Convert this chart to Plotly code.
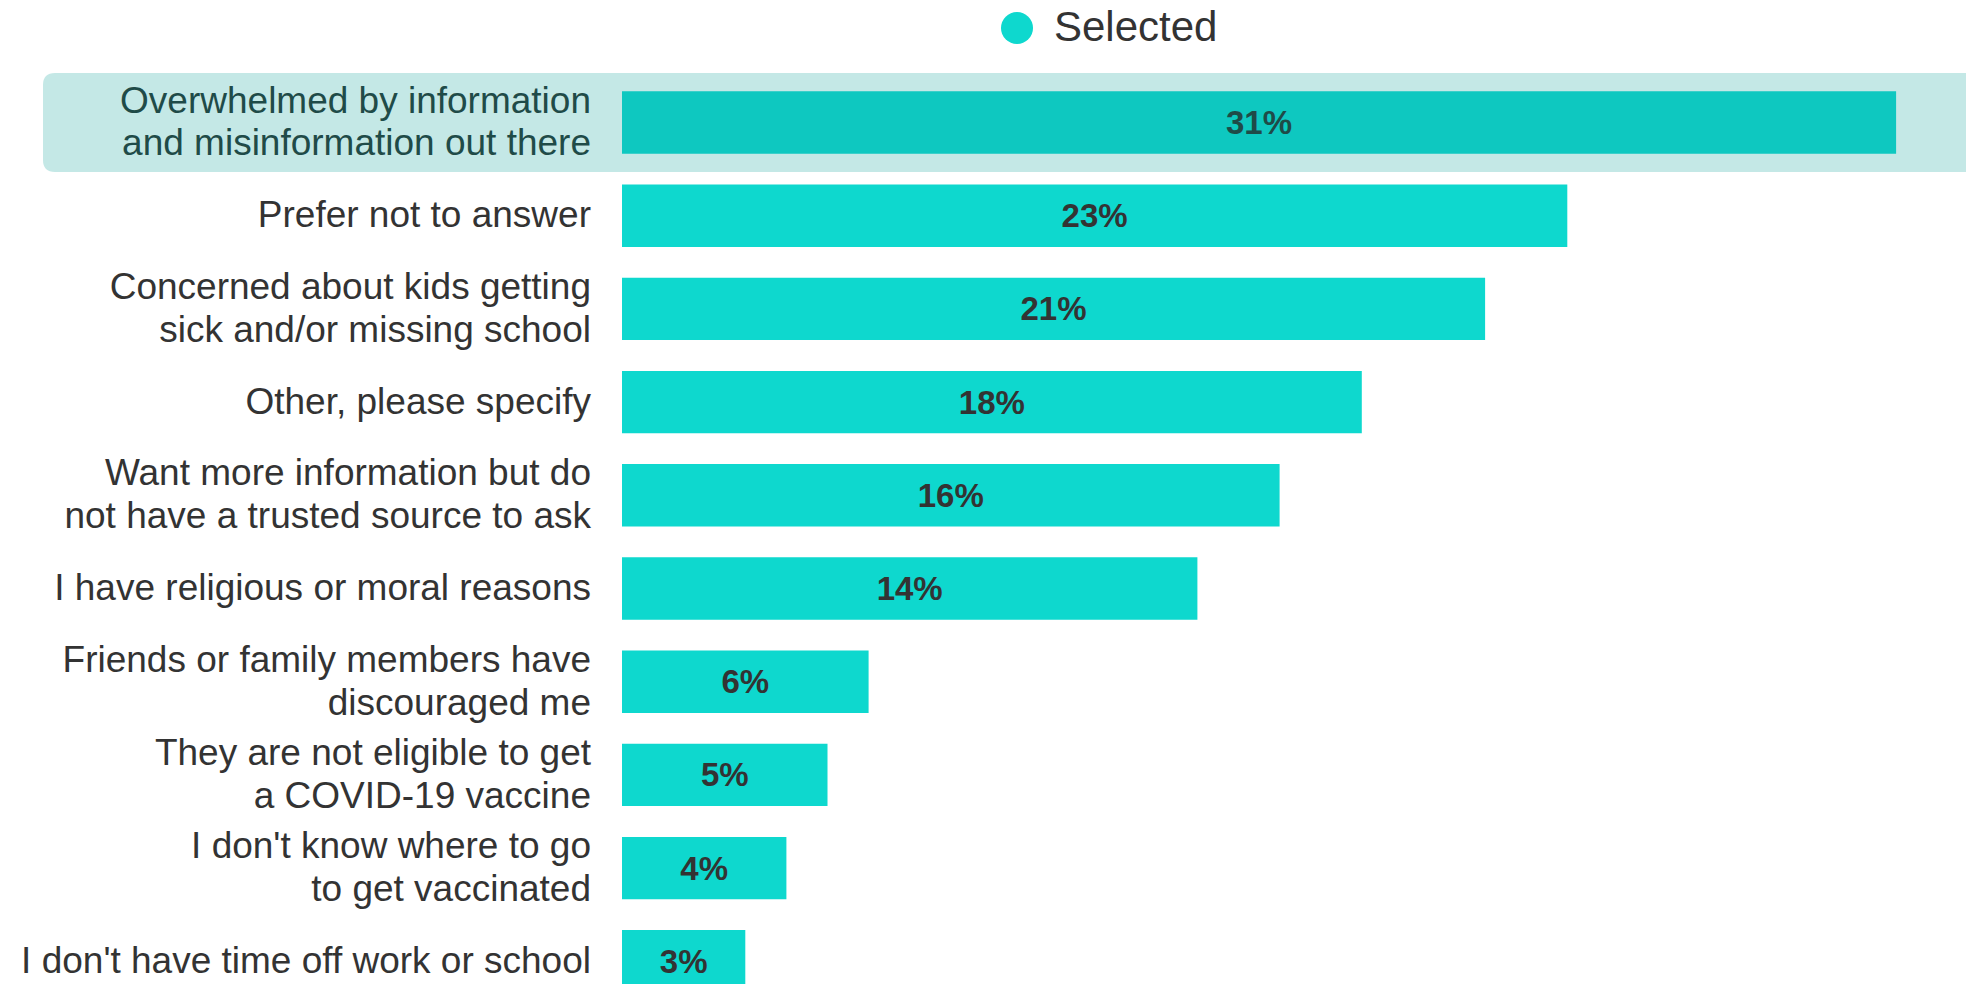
import plotly.graph_objects as go

categories = [
    "Overwhelmed by information<br>and misinformation out there",
    "Prefer not to answer",
    "Concerned about kids getting<br>sick and/or missing school",
    "Other, please specify",
    "Want more information but do<br>not have a trusted source to ask",
    "I have religious or moral reasons",
    "Friends or family members have<br>discouraged me",
    "They are not eligible to get<br>a COVID-19 vaccine",
    "I don't know where to go<br>to get vaccinated",
    "I don't have time off work or school",
]
values = [31, 23, 21, 18, 16, 14, 6, 5, 4, 3]
series_name = "Selected"
highlight_index = 0

BAR = "#0ED8CE"
BAR_HI = "#0EC8C0"
HI_BG = "#C4E8E6"
TXT = "#333333"
TXT_HI = "#1F4B48"
FONT = "Liberation Sans, Arial, sans-serif"
LABEL_PX = 37      # visible label glyph size
LINE_BASE = 33     # base size controlling line spacing

OFF = 8  # default page body margin
W, H = 1974 - OFF, 984 - OFF
PLOT_LEFT_PAGE, PLOT_TOP_PAGE = 622, 60
ML, MR, MT, MB = PLOT_LEFT_PAGE - OFF, 0, PLOT_TOP_PAGE - OFF, 0
plot_w = W - ML - MR
plot_h = H - MT - MB
px_per_unit_x = 41.1
px_per_row = 93.2
first_center_page = 122.5

ymin = -(first_center_page - PLOT_TOP_PAGE) / px_per_row
ymax = ymin + plot_h / px_per_row
xmax = plot_w / px_per_unit_x

idx = list(range(len(categories)))


def fmt_label(c, hi):
    style = f"font-size:{LABEL_PX}px" + (f";color:{TXT_HI}" if hi else "")
    return "<br>".join(f'<span style="{style}">{part}</span>' for part in c.split("<br>"))


ticktext = [fmt_label(c, i == highlight_index) for i, c in enumerate(categories)]
colors = [BAR_HI if i == highlight_index else BAR for i in idx]
tcolors = [TXT_HI if i == highlight_index else TXT for i in idx]

fig = go.Figure()
fig.add_trace(go.Bar(
    x=values, y=idx, orientation="h", name=series_name,
    marker=dict(color=colors, line=dict(width=0)),
    text=[f"{v}%" for v in values],
    texttemplate="<b>%{text}</b>",
    textposition="inside", insidetextanchor="middle",
    textfont=dict(size=33, color=tcolors, family=FONT),
    showlegend=False, hoverinfo="skip",
))

# highlight band with rounded left corners
r = 12
x0 = (43 - PLOT_LEFT_PAGE) / plot_w
x1 = 1.01
hy = 0.53
rx = r / plot_w
ry = r / px_per_row
y0 = highlight_index - hy
y1 = highlight_index + hy
path = (f"M {x1},{y0} L {x0+rx},{y0} Q {x0},{y0} {x0},{y0+ry} "
        f"L {x0},{y1-ry} Q {x0},{y1} {x0+rx},{y1} L {x1},{y1} Z")
fig.add_shape(type="path", path=path, xref="paper", yref="y",
              fillcolor=HI_BG, line=dict(width=0), layer="below")


# legend (circle marker + label), page pixel coordinates
def px2paperx(p):
    return (p - PLOT_LEFT_PAGE) / plot_w


def px2papery(p):
    return 1 - (p - PLOT_TOP_PAGE) / plot_h


cx, cy, cr = 1017, 28, 16
fig.add_shape(type="circle", xref="paper", yref="paper",
              x0=px2paperx(cx - cr), x1=px2paperx(cx + cr),
              y0=px2papery(cy + cr), y1=px2papery(cy - cr),
              fillcolor=BAR, line=dict(width=0))
fig.add_annotation(text=series_name, xref="paper", yref="paper",
                   x=px2paperx(1052), y=px2papery(27), xanchor="left", yanchor="middle",
                   showarrow=False, font=dict(size=42, color=TXT, family=FONT))

fig.update_layout(
    width=W, height=H,
    margin=dict(l=ML, r=MR, t=MT, b=MB, pad=0),
    paper_bgcolor="white", plot_bgcolor="white",
    bargap=0.33,
    font=dict(family=FONT, color=TXT),
    xaxis=dict(range=[0, xmax], visible=False, fixedrange=True),
    yaxis=dict(range=[ymax, ymin], tickmode="array", tickvals=idx, ticktext=ticktext,
               showgrid=False, zeroline=False, showline=False, ticks="",
               ticklabelstandoff=30,
               tickfont=dict(size=LINE_BASE, color=TXT, family=FONT), fixedrange=True,
               automargin=False),
    showlegend=False,
)

fig.write_html("out.html", config={"displayModeBar": False})
